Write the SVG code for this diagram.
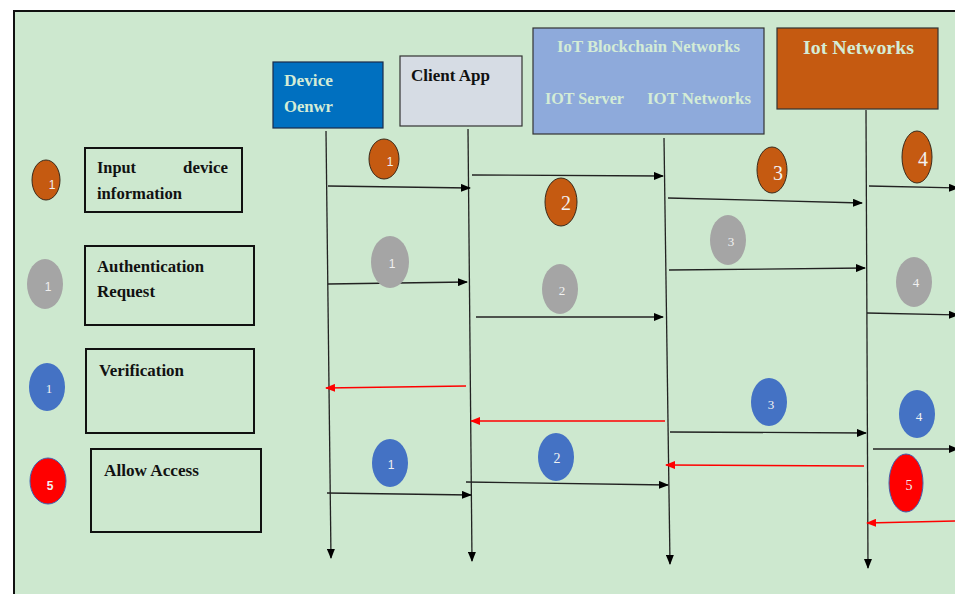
<svg xmlns="http://www.w3.org/2000/svg" width="955" height="594" viewBox="0 0 955 594">
<defs>
<marker id="ab" markerWidth="10" markerHeight="8" refX="9" refY="4" orient="auto" markerUnits="userSpaceOnUse"><path d="M0,0 L10,4 L0,8 Z" fill="#000"/></marker>
<marker id="ar" markerWidth="10" markerHeight="8" refX="9" refY="4" orient="auto" markerUnits="userSpaceOnUse"><path d="M0,0 L10,4 L0,8 Z" fill="#ff0000"/></marker>
<style>
.t{font-family:"Liberation Serif","DejaVu Serif",serif;font-weight:bold;font-size:16px;fill:#111}
.h{font-family:"Liberation Serif","DejaVu Serif",serif;font-weight:bold;fill:#d4ecd6}
.lg{fill:none;stroke:#111;stroke-width:2}
.ll{stroke:#222;stroke-width:1.3;fill:none;marker-end:url(#ab)}
.mb{stroke:#222;stroke-width:1.3;fill:none;marker-end:url(#ab)}
.mr{stroke:#ff0000;stroke-width:1.5;fill:none;marker-end:url(#ar)}
.o{fill:#c55a11;stroke:#3a2a1a;stroke-width:1}
.g{fill:#a5a5a5}
.b{fill:#4472c4}
.r{fill:#ff0000;stroke:#4060b0;stroke-width:1}
.n{font-family:"Liberation Sans","DejaVu Sans",sans-serif;font-size:12px;fill:#f0f0f0;text-anchor:middle}
.ns{font-family:"Liberation Serif","DejaVu Serif",serif;fill:#f2f2f2;text-anchor:middle}
</style>
</defs>
<rect x="0" y="0" width="955" height="594" fill="#ffffff"/>
<rect x="14" y="11" width="960" height="600" fill="#cde8cf" stroke="#111" stroke-width="2"/>

<g id="device">
<rect x="273" y="62" width="110" height="66" fill="#0070c0" stroke="#1a2a4a" stroke-width="1.2"/>
<text class="h" x="284" y="86" font-size="16" textLength="49" lengthAdjust="spacingAndGlyphs">Device</text>
<text class="h" x="284" y="112" font-size="16" textLength="49" lengthAdjust="spacingAndGlyphs">Oenwr</text>
</g>
<g id="client">
<rect x="400" y="56" width="122" height="70" fill="#d6dce4" stroke="#333" stroke-width="1.2"/>
<text class="t" x="411" y="81" textLength="79" lengthAdjust="spacingAndGlyphs">Client App</text>
</g>
<g id="blockchain">
<rect x="533" y="28" width="231" height="106" fill="#8eaadb" stroke="#333" stroke-width="1.2"/>
<text class="h" x="557" y="52" font-size="16" textLength="183" lengthAdjust="spacingAndGlyphs">IoT Blockchain Networks</text>
<text class="h" x="545" y="104" font-size="16" textLength="79" lengthAdjust="spacingAndGlyphs">IOT Server</text>
<text class="h" x="647" y="104" font-size="16" textLength="104" lengthAdjust="spacingAndGlyphs">IOT Networks</text>
</g>
<g id="iot">
<rect x="777" y="28" width="161" height="81" fill="#c55a11" stroke="#333" stroke-width="1.2"/>
<text class="h" x="803" y="54" font-size="19" textLength="111" lengthAdjust="spacingAndGlyphs">Iot Networks</text>
</g>

<g id="legend-input">
<ellipse class="o" cx="46" cy="180" rx="14" ry="20"/>
<text class="n" x="52" y="189" font-size="11">1</text>
<rect class="lg" x="85" y="148" width="157" height="64"/>
<text class="t" x="97" y="173" textLength="39" lengthAdjust="spacingAndGlyphs">Input</text>
<text class="t" x="183" y="173" textLength="45" lengthAdjust="spacingAndGlyphs">device</text>
<text class="t" x="97" y="199" textLength="85" lengthAdjust="spacingAndGlyphs">information</text>
</g>
<g id="legend-auth">
<ellipse class="g" cx="45" cy="284" rx="18" ry="25"/>
<text class="n" x="48" y="291">1</text>
<rect class="lg" x="85" y="246" width="169" height="79"/>
<text class="t" x="97" y="272" textLength="107" lengthAdjust="spacingAndGlyphs">Authentication</text>
<text class="t" x="97" y="297" textLength="58" lengthAdjust="spacingAndGlyphs">Request</text>
</g>
<g id="legend-verify">
<ellipse class="b" cx="47" cy="387" rx="18" ry="24"/>
<text class="ns" x="49" y="393" font-size="13">1</text>
<rect class="lg" x="86" y="349" width="168" height="84"/>
<text class="t" x="99" y="376" textLength="85" lengthAdjust="spacingAndGlyphs">Verification</text>
</g>
<g id="legend-allow">
<ellipse class="r" cx="48" cy="481" rx="18" ry="23"/>
<text class="n" x="50" y="490" font-size="13" font-weight="bold">5</text>
<rect class="lg" x="91" y="449" width="170" height="83"/>
<text class="t" x="104" y="476" textLength="95" lengthAdjust="spacingAndGlyphs">Allow Access</text>
</g>

<g id="connectors">
<path class="ll" d="M326,131 L331,558"/>
<path class="ll" d="M468,129 L472,561"/>
<path class="ll" d="M664,138 L670,564"/>
<path class="ll" d="M866,110 L868,568"/>

<path class="mb" d="M328,186 L470,188"/>
<path class="mb" d="M472,175 L663,176"/>
<path class="mb" d="M668,198 L862,203"/>
<path class="mb" d="M869,186 L958,188"/>

<path class="mb" d="M328,284 L467,282"/>
<path class="mb" d="M476,317 L663,317"/>
<path class="mb" d="M669,270 L865,268"/>
<path class="mb" d="M867,313 L958,315"/>

<path class="mr" d="M466,386 L326,388"/>
<path class="mr" d="M665,421 L471,421"/>
<path class="mb" d="M670,432 L866,433"/>
<path class="mb" d="M873,449 L958,449"/>
<path class="mb" d="M327,493 L471,495"/>
<path class="mb" d="M466,482 L668,485"/>
<path class="mr" d="M864,466 L666,465"/>
<path class="mr" d="M958,521 L867,523"/>
</g>

<g id="step-o1"><ellipse class="o" cx="384" cy="159" rx="15" ry="20"/><text class="n" x="390" y="166" font-size="11">1</text></g>
<g id="step-o2"><ellipse class="o" cx="561" cy="202" rx="16" ry="24"/><text class="ns" x="566" y="210" font-size="20">2</text></g>
<g id="step-o3"><ellipse class="o" cx="772" cy="170" rx="15" ry="23"/><text class="ns" x="778" y="180" font-size="20">3</text></g>
<g id="step-o4"><ellipse class="o" cx="917" cy="157" rx="15" ry="26"/><text class="ns" x="923" y="166" font-size="20">4</text></g>

<g id="step-g1"><ellipse class="g" cx="390" cy="262" rx="19" ry="26"/><text class="n" x="392" y="268">1</text></g>
<g id="step-g2"><ellipse class="g" cx="560" cy="289" rx="18" ry="25"/><text class="ns" x="562" y="295" font-size="13">2</text></g>
<g id="step-g3"><ellipse class="g" cx="728" cy="240" rx="18" ry="25"/><text class="ns" x="731" y="246" font-size="13">3</text></g>
<g id="step-g4"><ellipse class="g" cx="914" cy="282" rx="18" ry="25"/><text class="ns" x="916" y="287" font-size="13">4</text></g>

<g id="step-b1"><ellipse class="b" cx="390" cy="463" rx="18" ry="24"/><text class="n" x="391" y="469" font-size="13">1</text></g>
<g id="step-b2"><ellipse class="b" cx="556" cy="457" rx="18" ry="24"/><text class="ns" x="557" y="463" font-size="14">2</text></g>
<g id="step-b3"><ellipse class="b" cx="769" cy="402" rx="18" ry="24"/><text class="ns" x="771" y="409" font-size="13">3</text></g>
<g id="step-b4"><ellipse class="b" cx="917" cy="414" rx="18" ry="24"/><text class="ns" x="919" y="421" font-size="13">4</text></g>
<g id="step-r5"><ellipse class="r" cx="906" cy="483" rx="17" ry="29"/><text class="ns" x="909" y="490" font-size="14">5</text></g>
</svg>
